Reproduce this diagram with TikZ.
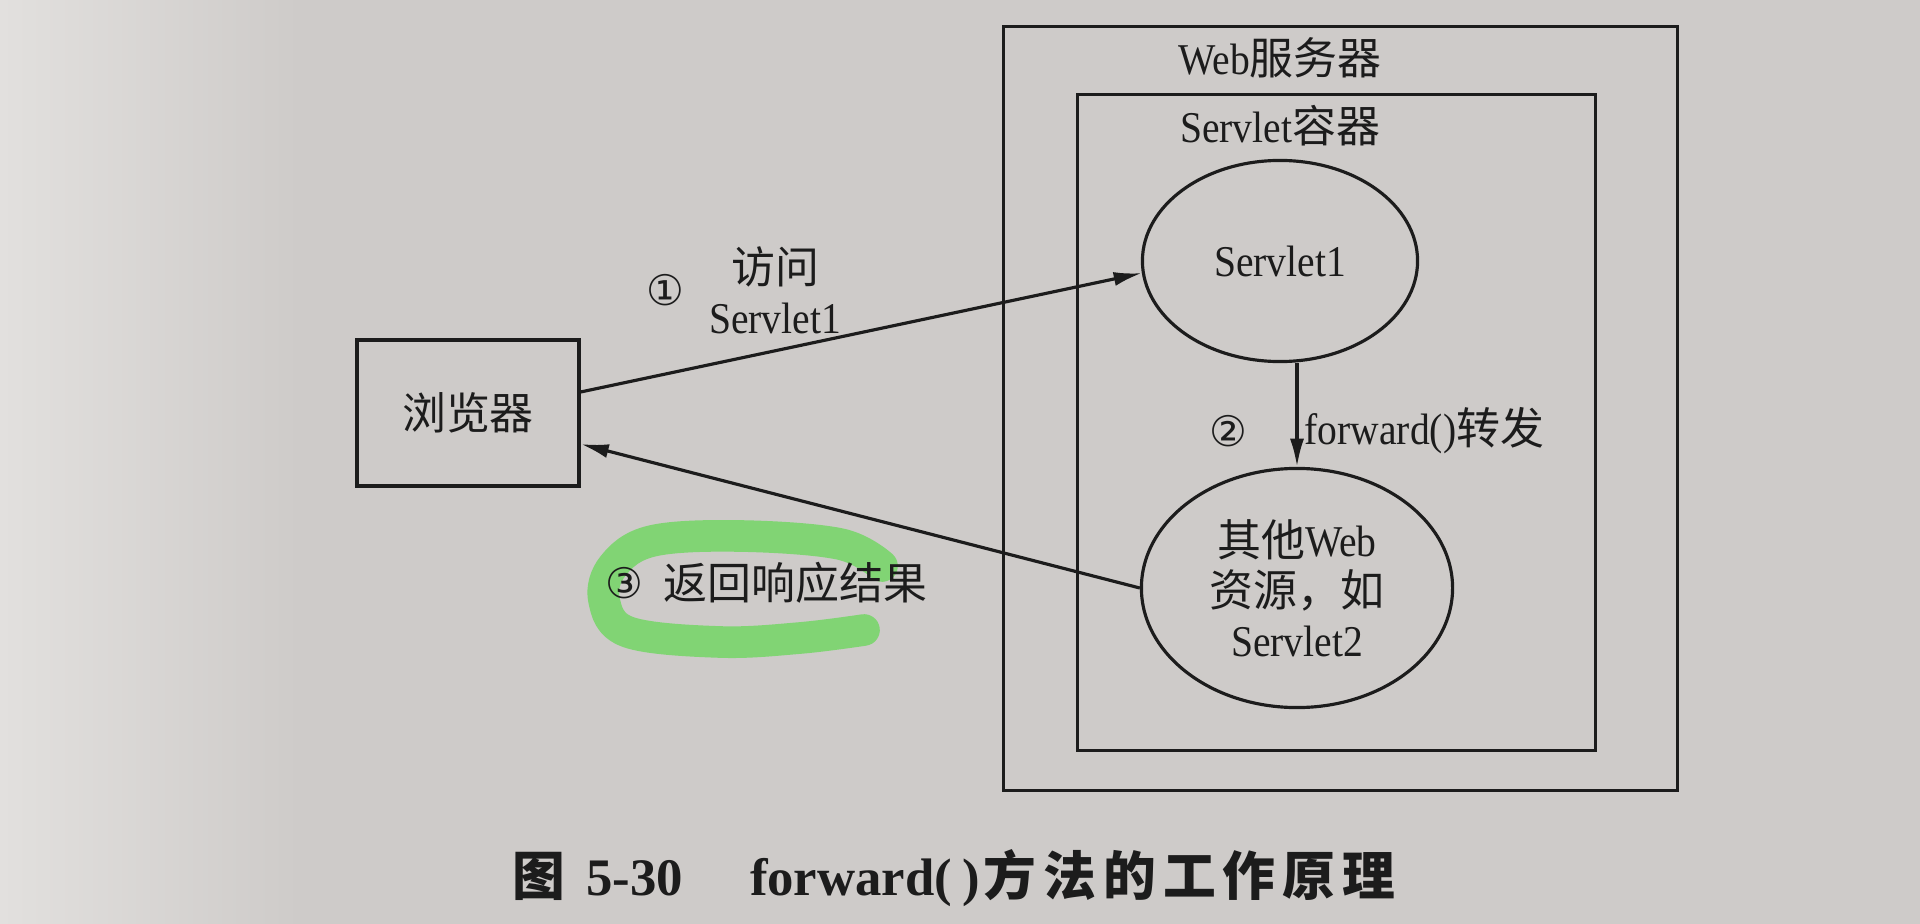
\documentclass[tikz,border=0pt]{standalone}
\usepackage{fontspec}
\setmainfont{Liberation Serif}[FakeStretch=0.9]
\newfontfamily\cjk{Noto Sans CJK SC}
\newfontfamily\symf{DejaVu Sans}
\newfontfamily\capfont{Liberation Serif}
\usetikzlibrary{arrows.meta,shapes.geometric}
\newcommand{\zhtext}[1]{{\cjk #1}}
\newcommand{\capgap}{\kern2pt}
\definecolor{paper}{RGB}{206,203,201}
\definecolor{paperlight}{RGB}{226,224,222}
\definecolor{ink}{RGB}{28,28,28}
\definecolor{marker}{RGB}{110,215,95}

\begin{document}
\begin{tikzpicture}[x=0.01cm,y=-0.01cm,
  txt/.style={inner sep=0pt, text=ink, font=\fontsize{12.5}{14.2}\selectfont},
  numlbl/.style={inner sep=0pt, text=ink, font=\symf\fontsize{12}{14}\selectfont},
  frame/.style={draw=ink, line width=0.9pt, inner sep=0pt},
  oval/.style={ellipse, draw=ink, line width=0.9pt, inner sep=0pt, text=ink,
               align=center, font=\fontsize{12.5}{14.2}\selectfont},
  arr/.style={draw=ink, line width=0.9pt, -{Latex[length=8pt,width=4pt]}},
  hl/.style={draw=marker, line width=9pt, line cap=round, line join=round, opacity=0.8}]

% page
\useasboundingbox (0,0) rectangle (1920,924);
\fill[paper] (0,0) rectangle (1920,924);
\shade[left color=paperlight, right color=paper] (0,0) rectangle (300,924);

% highlighter loop round step 3
\draw[hl] plot[smooth, tension=0.6] coordinates
  {(882,566) (840,544) (740,536) (652,541) (613,566) (604,600) (628,632)
   (720,642) (800,638) (864,630)};

% containers
\node[frame, minimum width=6.73cm, minimum height=7.63cm] (server) at (1340.5,408.5) {};
\node[txt] (serverlbl) at (1280,58) {Web\zhtext{服务器}};
\node[frame, minimum width=5.17cm, minimum height=6.55cm] (container) at (1336.5,422.5) {};
\node[txt] (containerlbl) at (1280,126) {Servlet\zhtext{容器}};

% browser and web resources
\node[frame, minimum width=2.22cm, minimum height=1.46cm, txt] (browser) at (468,413) {\zhtext{浏览器}};
\node[oval, minimum width=2.75cm, minimum height=2.01cm] (s1) at (1280,261) {Servlet1};
\node[oval, minimum width=3.11cm, minimum height=2.39cm] (s2) at (1297,588)
  {\zhtext{其他}Web\\\zhtext{资源，如}\\Servlet2};

% request flow
\draw[arr] ([yshift=0.21cm]browser.east) -- (s1.185);
\draw[arr] (s2.north |- s1.south) -- (s2.north);
\draw[arr] (s2.west) -- ([yshift=-0.31cm]browser.east);

% step labels
\node[numlbl] (n1) at (665,290) {①};
\node[txt, align=center] (l1) at (775,290) {\zhtext{访问}\\Servlet1};
\node[numlbl] (n2) at (1228,431) {②};
\node[txt, anchor=west] (l2) at (1304,431) {forward()\zhtext{转发}};
\node[numlbl] (n3) at (624,583) {③};
\node[txt, anchor=west] (l3) at (663,583) {\zhtext{返回响应结果}};

% caption
\node[inner sep=0pt, text=ink, anchor=west, font=\capfont\fontsize{15}{17}\selectfont\bfseries]
  (caption) at (512,878)
  {{\cjk\bfseries\fontsize{15}{17}\selectfont 图}\kern6pt 5-30\kern19pt forward(\kern3pt)\kern1pt%
   {\cjk\bfseries\fontsize{15}{17}\selectfont
    方\capgap 法\capgap 的\capgap 工\capgap 作\capgap 原\capgap 理}};
\end{tikzpicture}
\end{document}
